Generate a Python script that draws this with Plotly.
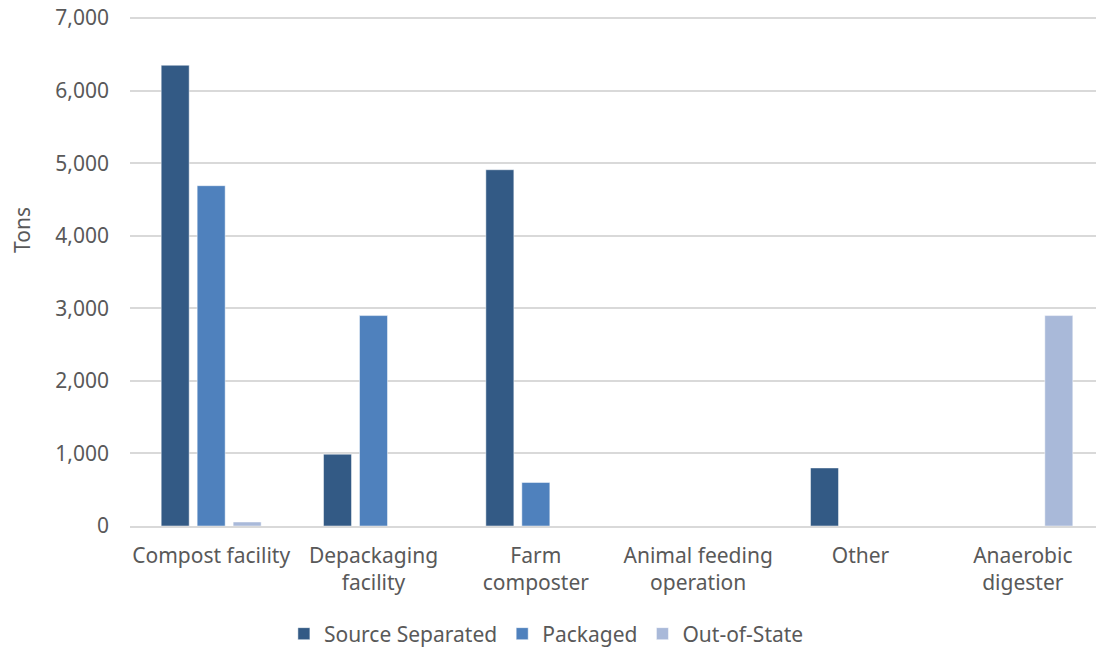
import plotly.graph_objects as go

categories = ["Compost facility", "Depackaging<br>facility", "Farm<br>composter",
              "Animal feeding<br>operation", "Other", "Anaerobic<br>digester"]
source_separated = [6350, 990, 4910, 0, 800, 0]
packaged = [4690, 2900, 600, 0, 0, 0]
out_of_state = [55, 0, 0, 0, 0, 2900]
y_ticks = [0, 1000, 2000, 3000, 4000, 5000, 6000, 7000]

series = [
    ("Source Separated", source_separated, "#335A85"),
    ("Packaged", packaged, "#4F81BD"),
    ("Out-of-State", out_of_state, "#A9B9D9"),
]

FONT = "Noto Sans"
TXT = "#595959"
FS = 21

fig = go.Figure()
for name, vals, col in series:
    fig.add_trace(go.Bar(
        x=categories, y=vals, name=name,
        marker=dict(color=col, line=dict(color="rgba(255,255,255,0.6)", width=0.8)),
    ))

fig.update_layout(
    width=1104, height=647,
    margin=dict(l=130, r=0, t=17, b=121),
    paper_bgcolor="white", plot_bgcolor="white",
    barmode="group", bargap=0.335, bargroupgap=0.222,
    font=dict(family=FONT, size=FS, color=TXT),
    showlegend=True,
    legend=dict(orientation="h", x=0.158, xanchor="left",
                yref="container", y=1 - 634 / 647, yanchor="middle",
                font=dict(family=FONT, size=FS, color=TXT), itemwidth=30,
                traceorder="normal"),
    xaxis=dict(showgrid=False, showline=True, linecolor="#D9D9D9", linewidth=1.5,
               tickfont=dict(family=FONT, size=FS, color=TXT), ticks="",
               ticklabelstandoff=10, automargin=False),
    yaxis=dict(range=[0, 7015], tickvals=y_ticks, tickformat=",",
               showgrid=True, gridcolor="#D9D9D9", gridwidth=1.5,
               zeroline=False, showline=False, ticks="",
               tickfont=dict(family=FONT, size=FS, color=TXT),
               ticklabelstandoff=20, automargin=False, ticklabeloverflow="allow"),
    annotations=[dict(text="Tons", textangle=-90, xref="paper", yref="paper",
                      x=-0.1109, y=0.5815, xanchor="center", yanchor="middle",
                      showarrow=False, font=dict(family=FONT, size=FS, color=TXT))],
)

fig.write_html(
    "out.html",
    config={"displayModeBar": False},
    post_script="document.body.style.margin='0';"
                "document.documentElement.style.overflow='hidden';"
                "document.body.style.overflow='hidden';",
)
